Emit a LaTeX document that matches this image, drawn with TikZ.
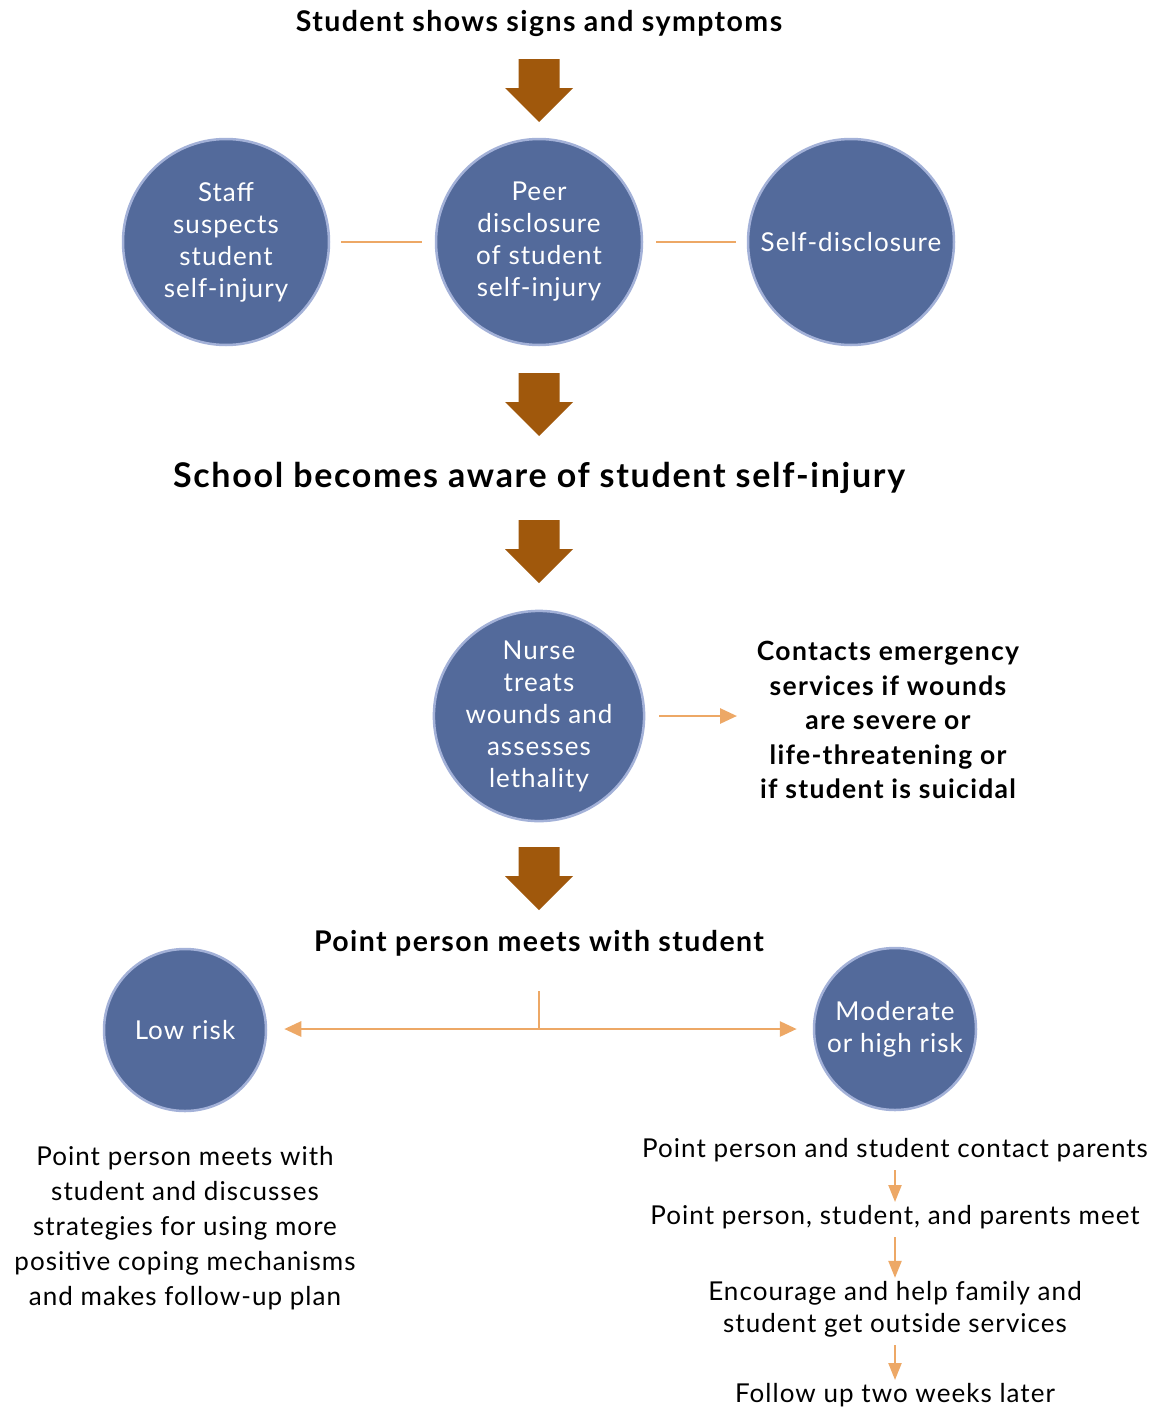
\documentclass[tikz,border=0pt]{standalone}
\usepackage{fontspec}
\setmainfont{Lato}[LetterSpace=4, BoldFeatures={LetterSpace=5}]
\usetikzlibrary{arrows.meta}
\definecolor{brownarr}{RGB}{160,88,12}
\definecolor{circfill}{RGB}{83,106,155}
\definecolor{circedge}{RGB}{163,177,216}
\definecolor{orline}{RGB}{237,168,102}
\tikzset{
  fatarrow/.pic={\fill[brownarr] (-20.5,0) -- (20.5,0) -- (20.5,29) -- (34,29) -- (0,63) -- (-34,29) -- (-20.5,29) -- cycle;},
  circ/.style={circle, fill=circfill, draw=circedge, line width=2.5pt, minimum size=206pt, inner sep=0pt, align=center, text=white, font=\fontsize{26}{32}\selectfont},
  smallcirc/.style={circ, minimum size=162pt},
  headtxt/.style={inner sep=0pt, align=center, font=\bfseries\fontsize{28.5}{34.5}\selectfont},
  contxt/.style={inner sep=0pt, align=center, font=\bfseries\fontsize{26.5}{34.5}\selectfont},
  bightxt/.style={inner sep=0pt, font=\bfseries\fontsize{34}{40}\selectfont},
  plaintxt/.style={inner sep=0pt, align=center, font=\fontsize{26}{32}\selectfont},
  linktxt/.style={inner sep=0pt, align=center, font=\fontsize{26}{35}\selectfont},
  orconn/.style={draw=orline, line width=2.8pt},
  orarrow/.style={orconn, -{Triangle[length=17pt,width=15pt]}},
  smallarrow/.style={draw=orline, line width=2.2pt, -{Triangle[length=17pt,width=13pt]}},
}
\begin{document}
\begin{tikzpicture}[x=1pt,y=-1pt]
\path[use as bounding box, fill=white] (0,0) rectangle (1157,1408);

\node[headtxt] (t1) at (539,23) {Student shows signs and symptoms};
\pic at (539,59) {fatarrow};

\node[circ] (staff) at (226,242) {Staff\\suspects\\student\\self-injury};
\node[circ] (peer) at (539,242) {Peer\\disclosure\\of student\\self-injury};
\node[circ] (self) at (851,242) {Self-disclosure};
\draw[orconn, shorten <=11pt, shorten >=13pt] (staff) -- (peer);
\draw[orconn, shorten <=13pt, shorten >=11pt] (peer) -- (self);

\pic at (539,373) {fatarrow};
\node[bightxt] (aware) at (539,478) {School becomes aware of student self-injury};
\pic at (539,520) {fatarrow};

\node[circ] (nurse) at (539,716) {Nurse\\treats\\wounds and\\assesses\\lethality};
\node[contxt] (contacts) at (888,720) {Contacts emergency\\services if wounds\\are severe or\\life-threatening or\\if student is suicidal};
\draw[orarrow, shorten <=14pt] (nurse.east) -- (nurse.east -| 737,0);

\pic at (539,847) {fatarrow};
\node[headtxt] (pp) at (539,943) {Point person meets with student};

\node[smallcirc] (low) at (185,1030) {Low risk};
\node[smallcirc] (mod) at (895,1029) {Moderate\\or high risk};
\coordinate (stem) at (539,991);
\coordinate (split) at (539,1029);
\draw[orconn] (stem) -- (split);
\draw[orarrow, shorten >=17pt] (split) -- (split -| low.east);
\draw[orarrow, shorten >=16pt] (split) -- (split -| mod.west);

\node[linktxt] (lowtxt) at (185,1228) {Point person meets with\\student and discusses\\strategies for using more\\positive coping mechanisms\\and makes follow-up plan};

\node[plaintxt] (r1) at (895,1150) {Point person and student contact parents};
\node[plaintxt] (r2) at (895,1217) {Point person, student, and parents meet};
\node[plaintxt] (r3) at (895,1309) {Encourage and help family and\\student get outside services};
\node[plaintxt] (r4) at (895,1395) {Follow up two weeks later};
\draw[smallarrow, shorten <=8pt, shorten >=3pt] (r1.south) -- (r2.north);
\draw[smallarrow, shorten <=8pt, shorten >=3pt] (r2.south) -- (r3.north);
\draw[smallarrow, shorten <=8pt, shorten >=3pt] (r3.south) -- (r4.north);
\end{tikzpicture}
\end{document}
